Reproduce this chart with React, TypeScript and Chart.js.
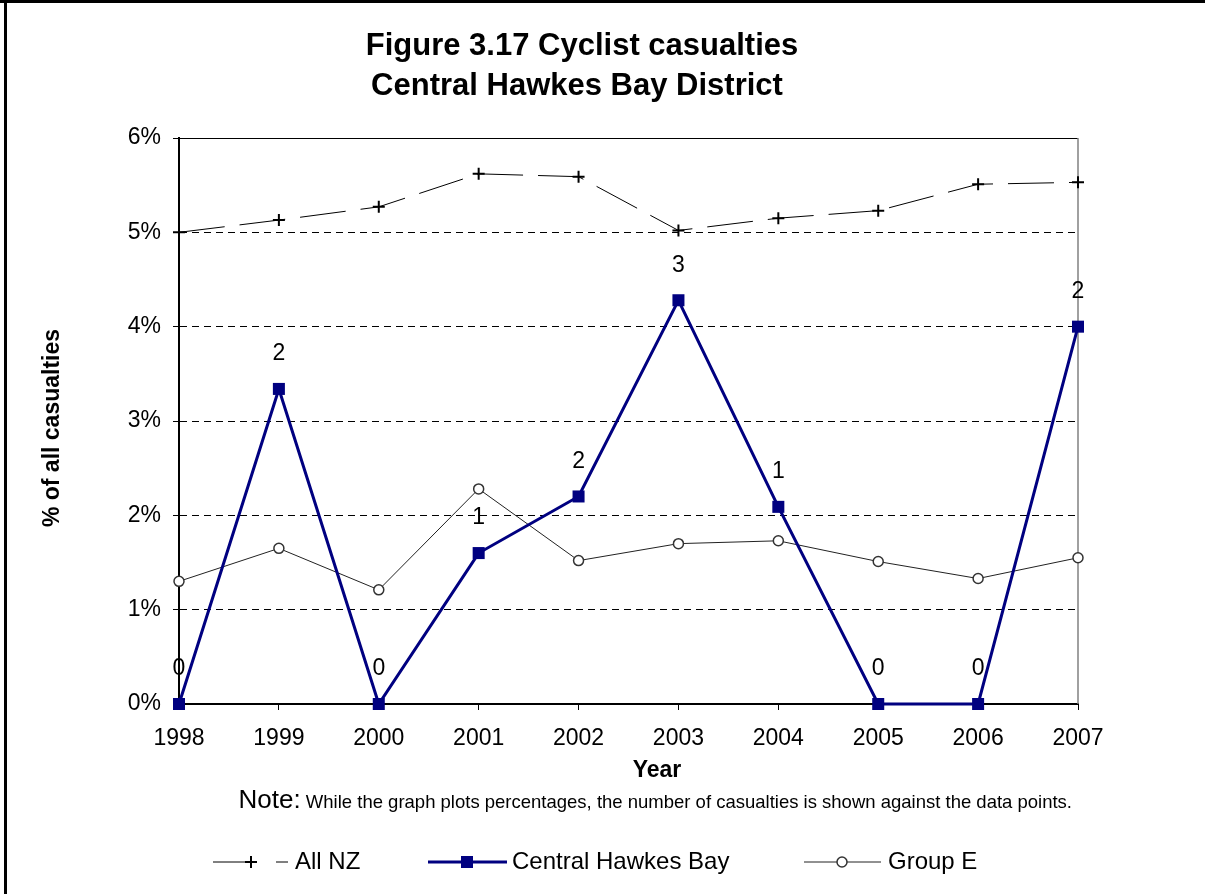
import React, { useEffect, useRef } from 'react';
import { Chart, registerables } from 'chart.js';

Chart.register(...registerables);

const years = ['1998', '1999', '2000', '2001', '2002', '2003', '2004', '2005', '2006', '2007'];
const allNZ = [5.0, 5.13, 5.27, 5.62, 5.59, 5.02, 5.15, 5.23, 5.51, 5.53];
const centralHawkesBay = [0, 3.34, 0, 1.6, 2.2, 4.28, 2.09, 0, 0, 4.0];
const groupE = [1.3, 1.65, 1.21, 2.28, 1.52, 1.7, 1.73, 1.51, 1.33, 1.55];
const chbCounts = [0, 2, 0, 1, 2, 3, 1, 0, 0, 2];
const seriesNames = ['All NZ', 'Central Hawkes Bay', 'Group E'];
const titleLines = ['Figure 3.17 Cyclist casualties', 'Central Hawkes Bay District'];
const xTitle = 'Year';
const yTitle = '% of all casualties';
const noteLead = 'Note:';
const noteText = ' While the graph plots percentages, the number of casualties is shown against the data points.';

const FONT = '"Liberation Sans", Arial, Helvetica, sans-serif';
const NAVY = '#000080';

const W = 1205;
const H = 894;

function drawMarker(ctx: CanvasRenderingContext2D, style: string, x: number, y: number, r: number) {
  ctx.beginPath();
  if (style === 'cross') {
    ctx.moveTo(x - r, y);
    ctx.lineTo(x + r, y);
    ctx.moveTo(x, y - r);
    ctx.lineTo(x, y + r);
    ctx.stroke();
  } else if (style === 'rect') {
    const s = Math.SQRT1_2 * r;
    ctx.rect(x - s, y - s, 2 * s, 2 * s);
    ctx.fill();
  } else {
    ctx.arc(x, y, r, 0, Math.PI * 2);
    ctx.fill();
    ctx.stroke();
  }
}

const decorPlugin = {
  id: 'decor',
  beforeDraw(chart: any) {
    const ctx = chart.ctx;
    ctx.save();
    ctx.fillStyle = '#ffffff';
    ctx.fillRect(0, 0, W, H);
    ctx.fillStyle = '#000000';
    ctx.fillRect(0, 0, W, 3);
    ctx.fillRect(4, 0, 3, H);
    ctx.restore();
  },
  beforeDatasetsDraw(chart: any) {
    const { ctx, chartArea } = chart;
    ctx.save();
    ctx.setLineDash([]);
    ctx.strokeStyle = '#000000';
    ctx.lineWidth = 1;
    ctx.beginPath();
    ctx.moveTo(chartArea.left, chartArea.top + 0.5);
    ctx.lineTo(chartArea.right, chartArea.top + 0.5);
    ctx.stroke();
    ctx.strokeStyle = '#808080';
    ctx.lineWidth = 1.5;
    ctx.beginPath();
    ctx.moveTo(chartArea.right, chartArea.top);
    ctx.lineTo(chartArea.right, chartArea.bottom);
    ctx.stroke();
    ctx.restore();
  },
  afterDraw(chart: any) {
    const { ctx } = chart;
    ctx.save();
    ctx.fillStyle = '#000000';
    // Title
    ctx.font = `bold 31px ${FONT}`;
    ctx.textAlign = 'center';
    ctx.textBaseline = 'middle';
    ctx.fillText(titleLines[0], 582, 46);
    ctx.fillText(titleLines[1], 577, 86);

    // Axis titles
    ctx.font = `bold 23px ${FONT}`;
    ctx.fillText(xTitle, 657, 771);
    ctx.save();
    ctx.translate(53, 428);
    ctx.rotate(-Math.PI / 2);
    ctx.fillText(yTitle, 0, 0);
    ctx.restore();

    // Note (right edge at ~1072)
    ctx.textAlign = 'left';
    ctx.textBaseline = 'alphabetic';
    ctx.font = `26px ${FONT}`;
    const leadW = ctx.measureText(noteLead).width;
    ctx.font = `18.5px ${FONT}`;
    const restW = ctx.measureText(noteText).width;
    const nx = 1072 - leadW - restW;
    ctx.font = `26px ${FONT}`;
    ctx.fillText(noteLead, nx, 808);
    ctx.font = `18.5px ${FONT}`;
    ctx.fillText(noteText, nx + leadW, 808);

    // Data labels for Central Hawkes Bay
    const meta = chart.getDatasetMeta(1);
    ctx.font = `23px ${FONT}`;
    ctx.textAlign = 'center';
    ctx.textBaseline = 'middle';
    meta.data.forEach((pt: any, i: number) => {
      ctx.fillText(String(chbCounts[i]), pt.x, pt.y - 35);
    });

    // Legend
    const ly = 862;
    const items = [
      { x0: 213, x1: 288, mx: 251, tx: 295, i: 0 },
      { x0: 428, x1: 507, mx: 467, tx: 512, i: 1 },
      { x0: 804, x1: 881, mx: 842, tx: 888, i: 2 },
    ];
    items.forEach((it) => {
      const ds = chart.data.datasets[it.i];
      ctx.save();
      ctx.strokeStyle = ds.borderColor;
      ctx.lineWidth = ds.borderWidth;
      ctx.setLineDash(it.i === 0 ? [33, 30, 12, 100] : []);
      ctx.beginPath();
      ctx.moveTo(it.x0, ly);
      ctx.lineTo(it.x1, ly);
      ctx.stroke();
      ctx.setLineDash([]);
      ctx.fillStyle = ds.pointBackgroundColor;
      ctx.strokeStyle = ds.pointBorderColor;
      ctx.lineWidth = ds.pointBorderWidth;
      drawMarker(ctx, ds.pointStyle, it.mx, ly, ds.pointRadius);
      ctx.restore();
      ctx.fillStyle = '#000000';
      ctx.font = `24px ${FONT}`;
      ctx.textAlign = 'left';
      ctx.textBaseline = 'middle';
      ctx.fillText(seriesNames[it.i], it.tx, ly);
    });
    ctx.restore();
  },
};

export default function App() {
  const ref = useRef<HTMLCanvasElement | null>(null);

  useEffect(() => {
    if (!ref.current) return;
    const chart = new Chart(ref.current, {
      type: 'line',
      data: {
        labels: years,
        datasets: [
          {
            label: seriesNames[0],
            data: allNZ,
            borderColor: '#000000',
            borderWidth: 1,
            borderDash: [46, 15],
            pointStyle: 'cross',
            pointRadius: 6,
            pointBorderWidth: 2,
            pointBorderColor: '#000000',
            pointBackgroundColor: '#000000',
            fill: false,
            tension: 0,
            clip: false,
            order: 2,
          } as any,
          {
            label: seriesNames[1],
            data: centralHawkesBay,
            borderColor: NAVY,
            borderWidth: 3,
            pointStyle: 'rect',
            pointRadius: 8.5,
            pointBorderWidth: 0,
            pointBorderColor: NAVY,
            pointBackgroundColor: NAVY,
            fill: false,
            tension: 0,
            clip: false,
            order: 0,
          } as any,
          {
            label: seriesNames[2],
            data: groupE,
            borderColor: '#222222',
            borderWidth: 1,
            pointStyle: 'circle',
            pointRadius: 5,
            pointBorderWidth: 1.5,
            pointBorderColor: '#333333',
            pointBackgroundColor: '#ffffff',
            fill: false,
            tension: 0,
            clip: false,
            order: 1,
          } as any,
        ],
      },
      options: {
        responsive: false,
        animation: false,
        layout: { padding: { top: 138, right: 127, left: 0, bottom: 0 } },
        plugins: {
          legend: { display: false },
          title: { display: false },
          tooltip: { enabled: false },
        },
        scales: {
          x: {
            type: 'category',
            offset: false,
            afterFit: (s: any) => {
              s.height = 190;
            },
            grid: {
              drawOnChartArea: false,
              drawTicks: true,
              tickLength: 6,
              color: '#000000',
              lineWidth: 1,
            },
            border: { display: true, color: '#000000', width: 2 },
            ticks: {
              color: '#000000',
              font: { family: FONT, size: 23 },
              padding: 15,
              maxRotation: 0,
              autoSkip: false,
            },
          },
          y: {
            min: 0,
            max: 6,
            afterFit: (s: any) => {
              s.width = 179;
            },
            grid: {
              drawOnChartArea: true,
              drawTicks: true,
              tickLength: 6,
              color: '#000000',
              lineWidth: 1,
              tickBorderDash: [],
            },
            border: { display: true, color: '#000000', width: 2, dash: [7, 5] },
            ticks: {
              stepSize: 1,
              color: '#000000',
              font: { family: FONT, size: 23 },
              padding: 12,
              callback: (v: any) => `${v}%`,
            },
          },
        },
      },
      plugins: [decorPlugin],
    });
    return () => chart.destroy();
  }, []);

  return (
    <div style={{ position: 'absolute', left: 0, top: 0, width: W, height: H, background: '#fff' }}>
      <canvas ref={ref} width={W} height={H} style={{ display: 'block', width: W, height: H }} />
    </div>
  );
}
